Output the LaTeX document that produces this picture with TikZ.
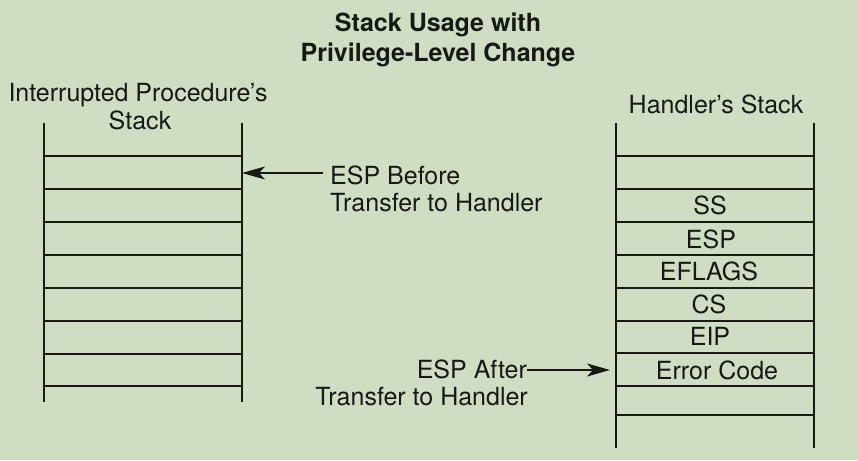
\documentclass[tikz,border=0pt]{standalone}
\usepackage{fontspec}
\setmainfont{TeX Gyre Heros}
\usetikzlibrary{arrows.meta}
\definecolor{bg}{HTML}{CFDEC3}
\definecolor{ink}{HTML}{151A15}

\begin{document}
\begin{tikzpicture}[x=1pt, y=-1pt,
    every node/.style={font=\fontsize{25}{28}\selectfont, text=ink, inner sep=0pt},
    ttl/.style={font=\fontsize{25}{28}\selectfont\bfseries, anchor=base},
    hd/.style={anchor=base},
    slot/.style={text height=17.9pt, text depth=0pt},
    rule/.style={ink, line width=1.6pt},
    ptr/.style={ink, line width=1.1pt, -{Stealth[length=23pt, width=13pt, inset=6pt]}},
]
\fill[bg] (0,0) rectangle (858,460);

% title
\node[ttl] (title1) at (438,32) {Stack Usage with};
\node[ttl] (title2) at (438,61) {Privilege-Level Change};

% interrupted procedure's stack
\node[hd] (lhead1) at (138,101) {Interrupted Procedure's};
\node[hd] (lhead2) at (140,129.5) {Stack};
\draw[rule] (44,123) -- (44,402) (242,123) -- (242,402);
\foreach \y in {156,189,222,255,288,321,354,386}{
    \draw[rule] (44,\y) -- (242,\y);
}

% handler's stack
\node[hd] (rhead) at (716,113) {Handler's Stack};
\draw[rule] (616,123) -- (616,448) (814,123) -- (814,448);
\foreach \y in {156,189,222,255,288,321,353,386,415}{
    \draw[rule] (616,\y) -- (814,\y);
}
\foreach \x/\y/\name/\txt in {710/206/ss/SS, 711/239.5/esp/ESP, 709/271.5/eflags/EFLAGS,
                              709/304.5/cs/CS, 710/337/eip/EIP, 717/370.5/errcode/Error Code}{
    \node[slot] (\name) at (\x,\y) {\txt};
}

% stack pointers
\node[anchor=base west] (before1) at (330,184) {ESP Before};
\node[anchor=base west] (before2) at (330,211) {Transfer to Handler};
\coordinate (topL) at (242,173);
\draw[ptr] ([xshift=-7pt]before1.west |- topL) -- (topL);

\node[anchor=base east] (after1) at (527,378) {ESP After};
\node[anchor=base east] (after2) at (528,405) {Transfer to Handler};
\coordinate (topR) at (610,370);
\draw[ptr] (after1.east |- topR) -- (topR);
\end{tikzpicture}
\end{document}
